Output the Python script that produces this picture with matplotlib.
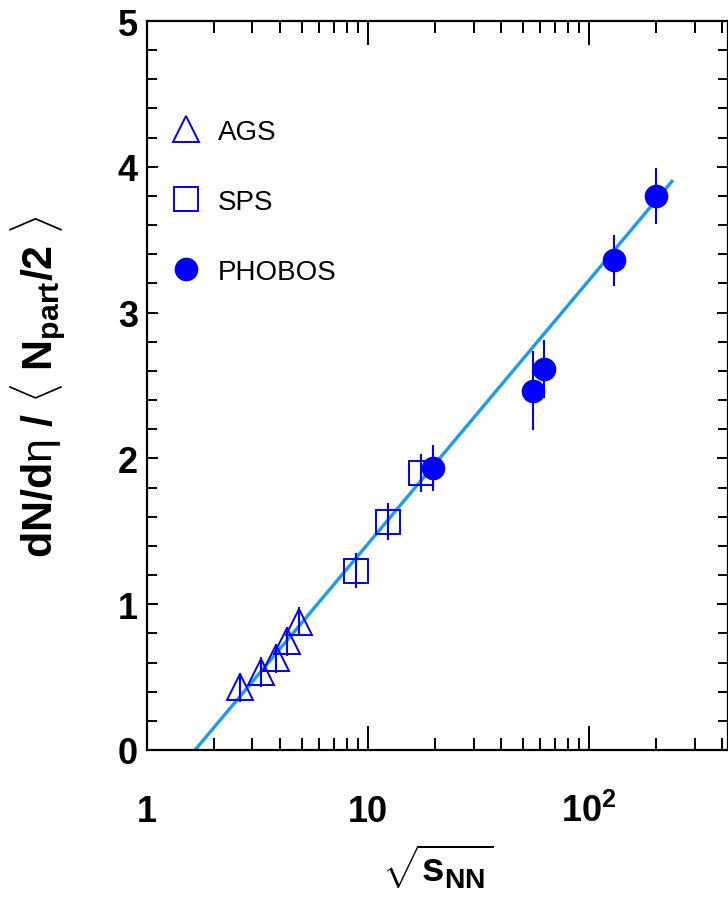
import numpy as np
import matplotlib
matplotlib.use('Agg')
import matplotlib.pyplot as plt
from matplotlib.lines import Line2D
from matplotlib.ticker import LogLocator, NullFormatter, MultipleLocator

plt.rcParams['font.family'] = ['Liberation Sans', 'DejaVu Sans']
plt.rcParams['mathtext.fontset'] = 'custom'
plt.rcParams['mathtext.rm'] = 'Liberation Sans'
plt.rcParams['mathtext.bf'] = 'Liberation Sans:bold'
plt.rcParams['mathtext.it'] = 'Liberation Sans'

# AGS (open triangles)
ags_x = [2.63, 3.28, 3.84, 4.29, 4.85]
ags_y = [0.43, 0.535, 0.63, 0.745, 0.88]
ags_err = [0.1, 0.1, 0.1, 0.1, 0.1]

# SPS (open squares)
sps_x = [8.8, 12.3, 17.3]
sps_y = [1.23, 1.565, 1.90]
sps_err = [0.12, 0.128, 0.13]

# PHOBOS (filled circles)
pho_x = [19.6, 56.0, 62.4, 130.0, 200.0]
pho_y = [1.935, 2.465, 2.615, 3.36, 3.80]
pho_err = [0.16, 0.27, 0.2, 0.175, 0.19]

# fit line end points
fit_x = [1.65, 237.0]
fit_y = [0.0, 3.90]

blue = '#0000ff'
lineblue = '#1a9cf0'

fig = plt.figure(figsize=(7.28, 9.03), dpi=100)
ax = fig.add_axes([147/728, 1 - 751/903, 581/728, 729/903])

ax.plot(fit_x, fit_y, color=lineblue, lw=2.4, zorder=2)

ax.errorbar(ags_x, ags_y, yerr=ags_err, fmt='^', ms=19, mfc='none', mec=blue,
            mew=1.4, ecolor=blue, elinewidth=1.5, capsize=0, zorder=3)
ax.errorbar(sps_x, sps_y, yerr=sps_err, fmt='s', ms=17.5, mfc='none', mec=blue,
            mew=1.4, ecolor=blue, elinewidth=1.5, capsize=0, zorder=3)
ax.errorbar(pho_x, pho_y, yerr=pho_err, fmt='o', ms=16, mfc=blue, mec=blue,
            ecolor=blue, elinewidth=1.5, capsize=0, zorder=4)

ax.set_xscale('log')
ax.set_xlim(1, 425)
ax.set_ylim(0, 5)

ax.set_xticks([1, 10, 100])
ax.set_xticklabels(['1', '10', r'$\mathbf{10^{2}}$'], fontsize=26,
                   fontweight='bold', va='baseline')
ax.xaxis.set_minor_locator(LogLocator(base=10, subs=np.arange(2, 10)))
ax.xaxis.set_minor_formatter(NullFormatter())
ax.yaxis.set_major_locator(MultipleLocator(1))
ax.yaxis.set_minor_locator(MultipleLocator(0.2))
for lbl in ax.get_yticklabels():
    lbl.set_fontsize(26)
    lbl.set_fontweight('bold')

ax.tick_params(which='both', direction='in', top=True, right=True, width=1.4)
ax.tick_params(axis='x', which='major', length=17, pad=51)
ax.tick_params(axis='x', which='minor', length=8.6)
ax.tick_params(axis='y', which='major', length=8, pad=6.5)
ax.tick_params(axis='y', which='minor', length=7)
for sp in ax.spines.values():
    sp.set_linewidth(1.6)

ax.set_xlabel(r'$\sqrt{\mathbf{s}_{\mathbf{NN}}}$', fontsize=29)
ax.xaxis.set_label_coords(0.5, -0.126)
ax.set_ylabel(r'$\mathbf{dN/d}\eta\ \mathbf{/}\ \langle\ \mathbf{N_{part}/2}\ \rangle$',
              fontsize=31)
ax.yaxis.set_label_coords(-0.136, 0.5)

handles = [
    Line2D([], [], ls='none', marker='^', ms=19, mfc='none', mec=blue, mew=1.4),
    Line2D([], [], ls='none', marker='s', ms=17.5, mfc='none', mec=blue, mew=1.4),
    Line2D([], [], ls='none', marker='o', ms=16, mfc=blue, mec=blue),
]
ax.legend(handles, ['AGS', 'SPS', 'PHOBOS'], loc='center left',
          bbox_to_anchor=(0.038, 0.752), frameon=False, fontsize=20,
          borderpad=0, borderaxespad=0, handlelength=1.2, handletextpad=0.55,
          labelspacing=1.58)

fig.savefig('out.png', dpi=100)
